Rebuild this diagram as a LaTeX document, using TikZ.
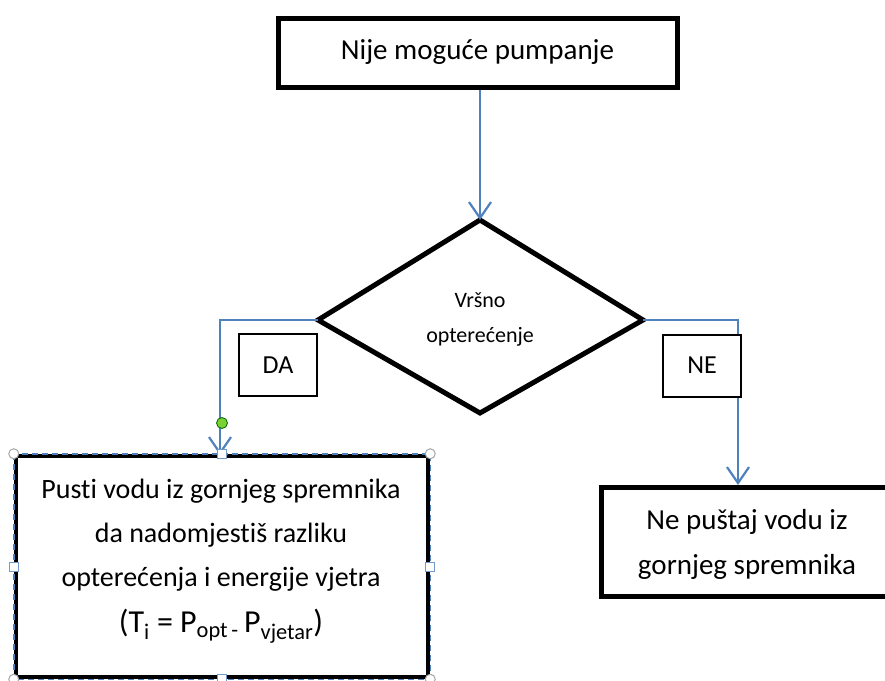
\documentclass[tikz,border=0pt]{standalone}
\usepackage{fontspec}
\setmainfont{Carlito}[Ligatures=NoCommon]
\usetikzlibrary{arrows.meta,shapes.geometric}
\definecolor{conn}{HTML}{4F81BD}
\definecolor{hgreen}{HTML}{7AD136}
\tikzset{
  box/.style={draw=black,line width=5pt,fill=white,inner sep=0pt},
  tag/.style={draw=black,line width=2pt,fill=white,inner sep=0pt,minimum width=78pt,minimum height=62pt,font=\fontsize{26}{30}\selectfont},
  conn/.style={draw=conn,line width=2.2pt,-{Straight Barb[length=16pt,width=22pt,line width=2.2pt]}},
  chandle/.style={circle,draw=gray!70,fill=white,line width=1pt,minimum size=10pt,inner sep=0pt},
  shandle/.style={rectangle,draw=conn!80,fill=white,line width=1pt,minimum size=9pt,inner sep=0pt},
}
\begin{document}
\begin{tikzpicture}[x=1pt,y=-1pt]
\useasboundingbox (0,0) rectangle (885,680);
\begin{scope}
\clip (0,0) rectangle (885,680);
% top box
\node[box,minimum width=399pt,minimum height=69pt,font=\fontsize{29}{34}\selectfont] (top) at (477.5,52.5) {Nije moguće pumpanje};
% diamond
\path[draw=black,line width=5pt,fill=white,line join=miter]
  (480,220) coordinate (dt) -- (643,320) coordinate (dr) -- (480,413) coordinate (db) -- (318,320) coordinate (dl) -- cycle;
\node[align=center,font=\fontsize{22}{35}\selectfont] (dtext) at (480,319) {Vršno\\opterećenje};
% right box
\node[box,minimum width=300pt,minimum height=109pt] (rbox) at (751,541.5) {};
\node[align=center,font=\fontsize{29}{45}\selectfont] (rtext) at (747,544) {Ne puštaj vodu iz\\gornjeg spremnika};
% left box
\node[draw=black,line width=4.5pt,fill=white,minimum width=412pt,minimum height=221pt,inner sep=0pt] (lbox) at (222,566.5) {};
\draw[conn,-,line width=1.5pt,dash pattern=on 6pt off 4pt] (lbox.north west) rectangle (lbox.south east);
\node[align=center,font=\fontsize{28}{44}\selectfont] (ltext) at (221,561) {Pusti vodu iz gornjeg spremnika\\da nadomjestiš razliku\\opterećenja i energije vjetra\\[2pt]{\fontsize{32}{44}\selectfont(T\textsubscript{i} = P\textsubscript{opt\,-}\,P\textsubscript{vjetar})}};
% connectors
\coordinate (lc) at (220,320);
\coordinate (rc) at (738,320);
\coordinate (lin) at (220,455);
\coordinate (rin) at (738,485);
\draw[conn] (top.south -| dt) -- (dt);
\draw[conn] (dl) -- (lc) -- (lin);
\draw[conn] (dr) -- (rc) -- (rin);
% tags
\node[tag] (da) at (278,365) {DA};
\node[tag] (ne) at (702,365.5) {NE};
% selection handles
\node[chandle] (h1) at (lbox.north west) {};
\node[chandle] (h2) at (lbox.north east) {};
\node[chandle] (h3) at (lbox.south west) {};
\node[chandle] (h4) at (lbox.south east) {};
\node[shandle] (h5) at (lbox.north) {};
\node[shandle] (h6) at (lbox.south) {};
\node[shandle] (h7) at (lbox.west) {};
\node[shandle] (h8) at (lbox.east) {};
\node[circle,draw=green!40!black,fill=hgreen,line width=0.8pt,minimum size=11pt,inner sep=0pt] (hg) at (222,423) {};
\end{scope}
\end{tikzpicture}
\end{document}
